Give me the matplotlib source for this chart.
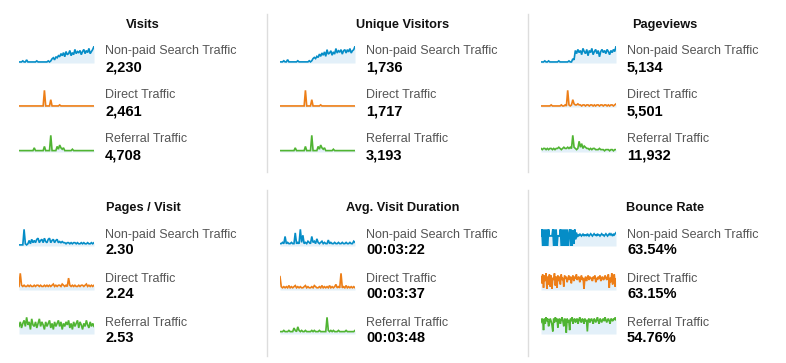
import matplotlib
matplotlib.use("Agg")
import matplotlib.pyplot as plt

W, H = 786, 363

# ---------------- data ----------------
metrics = ["Visits", "Unique Visitors", "Pageviews",
           "Pages / Visit", "Avg. Visit Duration", "Bounce Rate"]
series_names = ["Non-paid Search Traffic", "Direct Traffic", "Referral Traffic"]

visits_values = ["2,230", "2,461", "4,708"]
unique_values = ["1,736", "1,717", "3,193"]
pageviews_values = ["5,134", "5,501", "11,932"]
ppv_values = ["2.30", "2.24", "2.53"]
avd_values = ["00:03:22", "00:03:37", "00:03:48"]
bounce_values = ["63.54%", "63.15%", "54.76%"]

visits_np = [1,1,1,2,1,1,3,1,1,1,1,1,1,1,2,1,1,1,1,1,1,1,1,2,1,2,4,5,3,6,
             5,7,6,9,7,10,6,11,8,9,12,7,10,8,13,9,11,10,12,8,11,13,9,12,10,14,9,11,13,16]
visits_dir = [1,1,1,1,1,1,1,1,1,1,1,1,1,1,1,1,1,1,1,1,16,1,1,1,1,7,1,1,1,1,
              1,1,2,1,1,1,1,1,1,1,1,1,1,1,1,1,1,1,1,1,1,1,1,1,1,1,1,1,1,1]
visits_ref = [1,1,1,1,1,1,1,1,1,1,1,1,3,1,1,1,1,1,1,1,4,1,1,1,1,12,1,1,1,1,
              4,2,5,3,2,3,1,1,1,1,1,1,2,1,1,1,1,1,1,1,1,1,1,1,1,1,1,1,1,1]

unique_np = [1,1,1,2,1,1,3,1,1,1,1,1,1,1,2,1,1,1,1,1,1,1,1,2,1,2,4,5,4,6,
             5,8,6,9,7,10,6,12,8,9,11,7,10,8,13,9,11,10,12,8,11,12,9,12,10,13,9,11,12,15]
unique_dir = [1,1,1,1,1,1,1,1,1,1,1,1,1,1,1,1,1,1,1,1,16,1,1,1,1,7,1,1,1,1,
              1,1,2,1,1,1,1,1,1,1,1,1,1,1,1,1,1,1,1,1,1,1,1,1,1,1,1,1,1,1]
unique_ref = [1,1,1,1,1,1,1,1,1,1,1,1,3,1,1,1,1,1,1,1,4,1,1,1,1,12,1,1,1,1,
              4,2,5,3,2,3,1,1,1,1,1,1,2,1,1,1,1,1,1,1,1,1,1,1,1,1,1,1,1,1]

pageviews_np = [1,1,1,2,1,1,2,1,1,1,1,1,1,1,2,1,1,1,1,1,1,1,2,1,1,4,3,12,9,13,
                10,12,8,14,11,9,13,7,12,10,14,8,11,13,9,12,6,11,13,10,12,9,13,11,8,12,10,13,11,16]
pageviews_dir = [1,1,1,1,1,1,1,1,2,1,1,1,1,1,1,1,2,1,1,2,1,16,2,1,2,7,3,2,2,3,
                 2,2,1,2,2,1,2,2,1,2,2,1,2,1,2,2,1,2,2,1,2,2,1,2,1,2,2,1,2,3]
pageviews_ref = [3,2,3,3,2,3,2,3,3,2,3,2,3,3,4,3,2,3,4,3,3,4,3,4,3,14,4,3,2,3,
                 9,4,7,3,5,4,3,3,2,3,2,3,3,2,2,2,3,2,2,2,1,2,2,2,1,2,2,1,2,2]

ppv_np = [1,1,1,1,15,2,1,2,5,2,6,3,5,3,6,7,3,5,6,3,7,4,3,6,7,3,5,6,3,5,
          6,3,4,3,4,3,3,2,3,3,2,3,2,3,3,2,3,2,2,3,2,3,2,2,3,2,2,3,2,3]
ppv_dir = [3,14,4,3,4,3,3,4,3,4,3,3,4,3,4,4,3,4,3,3,4,3,4,3,4,3,4,5,3,4,
           3,4,4,3,5,4,3,4,3,10,4,3,4,3,4,3,3,4,3,4,4,3,4,5,3,4,3,4,3,4]
ppv_ref = [5,8,4,7,9,5,11,6,8,3,10,6,5,8,4,7,10,5,8,6,3,8,5,7,9,4,7,3,8,5,
           7,9,5,8,3,7,5,8,6,9,4,7,3,8,5,7,9,4,8,6,3,7,5,9,6,4,8,5,7,5]

avd_np = [2,2,3,2,8,2,3,2,2,3,2,2,11,2,3,2,14,3,9,2,3,2,4,3,2,8,3,4,2,6,
          3,2,3,4,2,3,2,2,5,2,3,2,2,3,2,2,3,2,2,3,2,2,3,2,2,3,2,2,4,3]
avd_dir = [12,3,2,3,2,3,2,4,2,3,2,3,4,2,3,2,3,2,2,3,4,2,3,2,2,3,2,4,3,2,
           2,3,2,4,2,3,2,3,2,4,2,3,2,3,5,2,3,2,15,2,3,2,4,2,3,2,3,2,3,2]
avd_ref = [2,2,2,3,2,2,2,3,2,2,2,5,3,2,6,3,2,3,2,2,3,2,2,2,2,3,2,3,2,2,
           2,3,2,2,2,2,2,14,3,2,3,2,3,2,2,2,3,2,2,2,2,2,3,2,2,2,2,2,2,3]

bounce_np = [9,15,0,15,0,15,0,15,0,15,9,9,9,9,15,0,15,0,15,0,9,9,9,15,0,15,0,15,0,15,
             0,15,0,11,15,0,15,0,14,2,15,6,12,8,10,9,11,10,9,10,11,9,10,10,9,11,10,9,10,11,
             10,9,10,11,10,10,9,11,10,10,9,10,11,10,10,9,10,11,10,9,10,11,10,11,10,9,11,10,11,12]
bounce_dir = [12,6,14,2,13,8,15,1,12,5,14,3,13,1,11,9,15,4,12,2,13,8,12,5,14,9,11,3,13,10,
              12,7,10,13,9,12,6,11,13,8,12,10,14,9,11,12,7,10,13,9,11,1,10,12,8,11,13,9,12,10,
              11,8,12,10,13,7,11,9,12,10,13,8,11,12,9,10,13,11,9,12,14,2,11,7,15,5,12,14,3,10]
bounce_ref = [9,12,11,3,12,8,13,10,12,6,9,12,10,7,2,12,9,13,10,12,5,11,12,8,11,13,10,6,12,11,
              1,12,9,11,3,12,10,13,8,11,12,9,11,12,8,11,13,10,9,12,11,8,12,10,11,2,11,12,9,11,
              12,10,8,12,11,9,11,13,10,8,12,11,9,11,12,10,13,11,9,11,12,10,8,12,11,10,12,11,13,11]

panel_values = [visits_values, unique_values, pageviews_values,
                ppv_values, avd_values, bounce_values]
panel_series = [
    [visits_np, visits_dir, visits_ref],
    [unique_np, unique_dir, unique_ref],
    [pageviews_np, pageviews_dir, pageviews_ref],
    [ppv_np, ppv_dir, ppv_ref],
    [avd_np, avd_dir, avd_ref],
    [bounce_np, bounce_dir, bounce_ref],
]

colors = ["#058dc7", "#ed7e17", "#50b432"]
fill_color = "#e3f0f9"

# ---------------- layout ----------------
fig = plt.figure(figsize=(W / 100, H / 100), dpi=100)
fig.patch.set_facecolor("white")
FONT = "Liberation Sans"


def fx(x):
    return x / W


def fy(y):
    return 1 - y / H


col_spark_x = [19, 280, 541]
col_text_x = [105, 366, 627]
col_title_x = [143, 403, 665]
spark_w = 75
spark_h = 17

row_title_base = [28, 211]
row_label_base = [[54, 98, 142], [238, 282, 326]]
row_value_base = [[71, 115, 159], [254, 298, 342]]
row_spark_base = [[63, 107, 152], [246, 290, 334]]

for p in range(6):
    r, c = divmod(p, 3)
    fig.text(fx(col_title_x[c]), fy(row_title_base[r]), metrics[p],
             ha="center", va="baseline", fontsize=9.2, fontweight="bold",
             family=FONT, color="#111111")
    for s in range(3):
        fig.text(fx(col_text_x[c]), fy(row_label_base[r][s]), series_names[s],
                 ha="left", va="baseline", fontsize=9, family=FONT, color="#555555")
        fig.text(fx(col_text_x[c]), fy(row_value_base[r][s]), panel_values[p][s],
                 ha="left", va="baseline", fontsize=10.5, fontweight="bold",
                 family=FONT, color="#000000")
        base = row_spark_base[r][s]
        ax = fig.add_axes([fx(col_spark_x[c]), fy(base), spark_w / W, spark_h / H])
        data = panel_series[p][s]
        xs = list(range(len(data)))
        ax.fill_between(xs, 0, data, color=fill_color, lw=0)
        ax.plot(xs, data, color=colors[s], lw=1.2, solid_joinstyle="miter")
        ax.set_xlim(0, len(data) - 1)
        ax.set_ylim(0, max(data) * 1.02)
        ax.axis("off")

# separators
for x in [267, 528]:
    for (y0, y1) in [(14, 172), (190, 356)]:
        fig.add_artist(plt.Line2D([fx(x), fx(x)], [fy(y0), fy(y1)],
                                  color="#dddddd", lw=1.0))

fig.savefig("out.png", dpi=100, facecolor="white")
